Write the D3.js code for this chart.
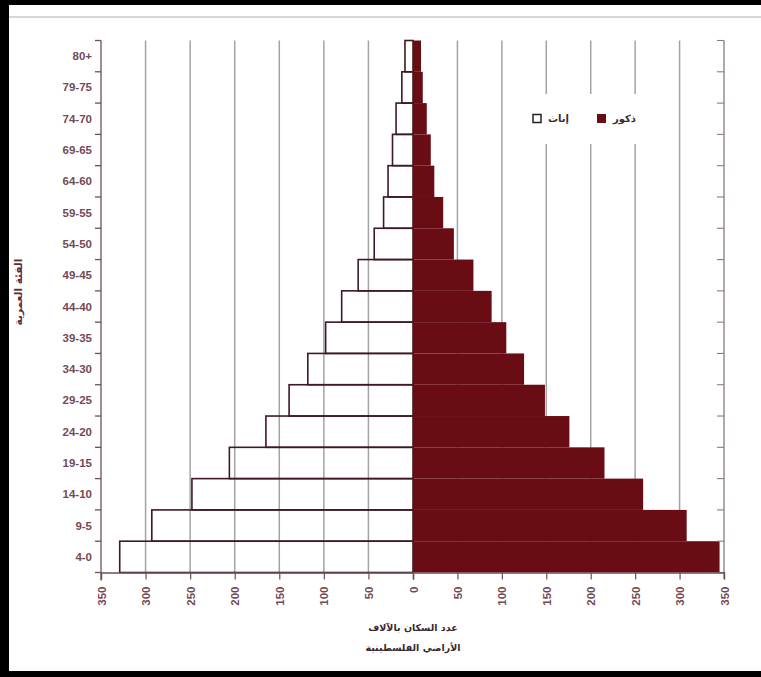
<!DOCTYPE html>
<html>
<head>
<meta charset="utf-8">
<script src="https://cdn.jsdelivr.net/npm/d3@7"></script>
<style>
  html, body { margin: 0; padding: 0; background: #fff; }
  svg { display: block; }
</style>
</head>
<body>
<script>
// ---- data (thousands) ----
const ageGroups = ["80+","79-75","74-70","69-65","64-60","59-55","54-50","49-45","44-40","39-35","34-30","29-25","24-20","19-15","14-10","9-5","4-0"];
const females  = [9, 12.5, 19, 23, 28, 33, 43.5, 61.5, 80, 98, 118, 139, 165, 206, 248, 293, 329];
const males    = [9, 11, 15.5, 20, 24, 34, 46, 68, 88.5, 105, 125, 148.5, 176, 215.5, 259, 308, 345];
const xTicks   = [0, 50, 100, 150, 200, 250, 300, 350];
const legendLabels = { male: "ذكور", female: "إناث" };
const yTitle = "الفئة العمرية";
const xTitle1 = "عدد السكان بالآلاف";
const xTitle2 = "الأراضي الفلسطينية";

const W = 761, H = 677;
const maleColor = "#6a0c14";
const outline = "#3e1a20";
const textColor = "#5c2a38";
const gridColor = "#a3a3a3";

const svg = d3.select("body").append("svg").attr("width", W).attr("height", H);

// frame
svg.append("rect").attr("x",0).attr("y",0).attr("width",W).attr("height",H).attr("fill","#fff");
svg.append("rect").attr("x",0).attr("y",0).attr("width",W).attr("height",5).attr("fill","#000");
svg.append("rect").attr("x",0).attr("y",0).attr("width",9).attr("height",H).attr("fill","#000");
svg.append("rect").attr("x",0).attr("y",671).attr("width",W).attr("height",6).attr("fill","#000");
svg.append("line").attr("x1",9).attr("x2",W).attr("y1",17).attr("y2",17).attr("stroke","#c8c8c8").attr("stroke-width",1.5);

const zeroX = 413, leftX = 101, rightX = 724;
const plotTop = 40.5, plotBottom = 572.5;

const xL = d3.scaleLinear().domain([0,350]).range([zeroX, leftX]);
const xR = d3.scaleLinear().domain([0,350]).range([zeroX, rightX]);
const y = d3.scaleBand().domain(ageGroups).range([plotTop, plotBottom]).padding(0);

// gridlines
const grid = svg.append("g");
xTicks.filter(t => t > 0 && t < 350).forEach(t => {
  [xL(t), xR(t)].forEach(x => {
    grid.append("line").attr("x1", x).attr("x2", x).attr("y1", plotTop).attr("y2", plotBottom)
      .attr("stroke", gridColor).attr("stroke-width", 1.5);
  });
});

// legend background (interrupts gridlines)
svg.append("rect").attr("x", 520).attr("y", 94).attr("width", 132).attr("height", 50).attr("fill", "#fff");

// female bars (outlined, no fill)
svg.append("g").selectAll("rect").data(ageGroups).join("rect")
  .attr("x", (d,i) => xL(females[i]))
  .attr("y", d => y(d))
  .attr("width", (d,i) => zeroX - xL(females[i]))
  .attr("height", y.bandwidth())
  .attr("fill", "none")
  .attr("stroke", outline)
  .attr("stroke-width", 1.6);

// male bars
svg.append("g").selectAll("rect").data(ageGroups).join("rect")
  .attr("x", zeroX)
  .attr("y", d => y(d))
  .attr("width", (d,i) => xR(males[i]) - zeroX)
  .attr("height", y.bandwidth())
  .attr("fill", maleColor);

// left y axis
const boundaries = ageGroups.map(d => y(d)).concat([plotBottom]);
const yAxisG = svg.append("g");
yAxisG.append("line").attr("x1", leftX).attr("x2", leftX).attr("y1", plotTop).attr("y2", plotBottom + 8)
  .attr("stroke", "#6b5056").attr("stroke-width", 1.3);
boundaries.forEach(b => {
  yAxisG.append("line").attr("x1", leftX - 6).attr("x2", leftX).attr("y1", b).attr("y2", b)
    .attr("stroke", "#6b5056").attr("stroke-width", 1.3);
});
yAxisG.selectAll("text").data(ageGroups).join("text")
  .attr("x", 92)
  .attr("y", d => y(d) + y.bandwidth()/2)
  .attr("dy", "0.35em")
  .attr("text-anchor", "end")
  .attr("font-family", "Liberation Sans, Arial, sans-serif")
  .attr("font-size", 11.5)
  .attr("font-weight", "bold")
  .attr("fill", textColor)
  .attr("opacity", 0.85)
  .text(d => d);

// right axis
const rAxisG = svg.append("g");
rAxisG.append("line").attr("x1", rightX).attr("x2", rightX).attr("y1", plotTop).attr("y2", plotBottom + 6)
  .attr("stroke", "#8a7a7e").attr("stroke-width", 1.3);
boundaries.forEach(b => {
  rAxisG.append("line").attr("x1", rightX - 7).attr("x2", rightX).attr("y1", b).attr("y2", b)
    .attr("stroke", "#8a7a7e").attr("stroke-width", 1.1);
});

// bottom axes
const fmt = d => String(d);
const axL = d3.axisBottom(xL).tickValues(xTicks.filter(t => t > 0)).tickSize(7).tickFormat(fmt);
const axR = d3.axisBottom(xR).tickValues(xTicks).tickSize(7).tickFormat(fmt);
[axL, axR].forEach(ax => {
  const g = svg.append("g").attr("transform", `translate(0,${plotBottom})`).call(ax);
  g.select(".domain").attr("stroke", "#6b5056").attr("stroke-width", 1.3);
  g.selectAll(".tick line").attr("stroke", "#6b5056").attr("stroke-width", 1.2);
  g.selectAll(".tick text")
    .attr("transform", "rotate(-90)")
    .attr("x", -14).attr("y", 0).attr("dy", "0.35em")
    .attr("text-anchor", "end")
    .attr("font-family", "Liberation Sans, Arial, sans-serif")
    .attr("font-size", 11.5)
    .attr("font-weight", "bold")
    .attr("fill", textColor)
    .attr("opacity", 0.85);
});

// legend
const lg = svg.append("g").attr("font-family", "DejaVu Sans, sans-serif").attr("font-size", 10).attr("font-weight", "bold").attr("fill", "#3a2a2e");
lg.append("rect").attr("x", 597).attr("y", 114).attr("width", 9).attr("height", 9).attr("fill", maleColor);
lg.append("text").attr("x", 636).attr("y", 122).attr("text-anchor", "end").text(legendLabels.male);
lg.append("rect").attr("x", 533).attr("y", 114.5).attr("width", 8).attr("height", 8).attr("fill", "#fff").attr("stroke", "#222").attr("stroke-width", 1.5);
lg.append("text").attr("x", 569).attr("y", 122).attr("text-anchor", "end").text(legendLabels.female);

// y title
svg.append("text")
  .attr("transform", "translate(22,292) rotate(-90)")
  .attr("text-anchor", "middle")
  .attr("font-family", "DejaVu Sans, sans-serif")
  .attr("font-size", 10.5)
  .attr("font-weight", "bold")
  .attr("fill", textColor)
  .text(yTitle);

// x titles
svg.append("text").attr("x", 413).attr("y", 631).attr("text-anchor", "middle")
  .attr("font-family", "DejaVu Sans, sans-serif").attr("font-size", 9.5).attr("font-weight", "bold")
  .attr("fill", "#3a2a2e").text(xTitle1);
svg.append("text").attr("x", 413).attr("y", 651).attr("text-anchor", "middle")
  .attr("font-family", "DejaVu Sans, sans-serif").attr("font-size", 9.5).attr("font-weight", "bold")
  .attr("fill", "#3a2a2e").text(xTitle2);
</script>
</body>
</html>
